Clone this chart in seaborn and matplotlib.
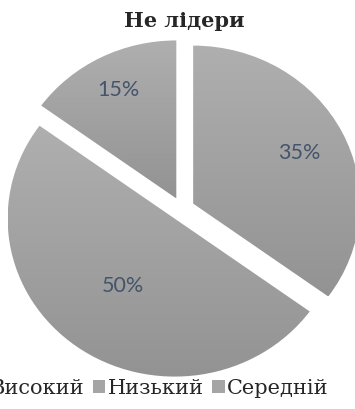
import numpy as np
import matplotlib
matplotlib.use("Agg")
import matplotlib.pyplot as plt
from matplotlib.patches import Patch
import seaborn as sns

# Data
title = "Не лідери"
categories = ["Високий", "Низький", "Середній"]
shares = [35, 50, 15]

sns.set_theme(style="white")
plt.rcParams["font.family"] = ["DejaVu Sans"]

W, H, DPI = 355, 409, 100
fig = plt.figure(figsize=(W / DPI, H / DPI), dpi=DPI)
ax = fig.add_axes([0, 0, 1, 1])

# Pie geometry in pixel-derived units (slightly wider than tall)
rx, ry = 167.0, 158.0
cx, cy = 182.0, 200.0  # centre, pixels from left / bottom

top_col, bot_col = "#AFAFAF", "#939393"
grad = sns.blend_palette([bot_col, top_col], n_colors=256, as_cmap=True)

wedges, texts, autotexts = ax.pie(
    shares,
    explode=[0.075] * len(shares),
    startangle=90,
    counterclock=False,
    radius=1.0,
    autopct="%1.0f%%",
    pctdistance=0.7,
    wedgeprops=dict(facecolor="none", edgecolor="none", linewidth=0),
    textprops=dict(color="#44546A", fontsize=15.5, family="Lato"),
)

ax.set_aspect("auto")
ax.axis("off")

# vertical gradient fill for every slice
ramp = np.linspace(1, 0, 256).reshape(-1, 1)
for w in wedges:
    ext = w.get_path().get_extents()
    im = ax.imshow(ramp, cmap=grad, vmin=0, vmax=1, aspect="auto",
                   extent=(ext.x0, ext.x1, ext.y0, ext.y1), zorder=1,
                   interpolation="bilinear")
    im.set_clip_path(w)

# label distances from each slice's own centre
label_dist = [0.71, 0.53, 0.77]
for w, t, d in zip(wedges, autotexts, label_dist):
    ang = np.deg2rad((w.theta1 + w.theta2) / 2)
    x0, y0 = w.center
    t.set_position((x0 + d * np.cos(ang), y0 + d * np.sin(ang)))
    t.set_zorder(3)

ax.set_xlim(-cx / rx, (W - cx) / rx)
ax.set_ylim(-cy / ry, (H - cy) / ry)

fig.text(184 / W, 1 - 21 / H, title, ha="center", va="center",
         fontsize=15, fontweight="bold", family="DejaVu Serif")

handles = [Patch(facecolor="#A5A5A5", edgecolor="none") for _ in categories]
fig.legend(handles, categories, loc="center", ncol=3, frameon=False,
           bbox_to_anchor=(152 / W, 1 - 388 / H),
           prop=dict(family="DejaVu Serif", size=15),
           handlelength=0.6, handleheight=0.6, handletextpad=0.12,
           columnspacing=0.4, borderpad=0, borderaxespad=0)

fig.savefig("out.png", dpi=DPI)
